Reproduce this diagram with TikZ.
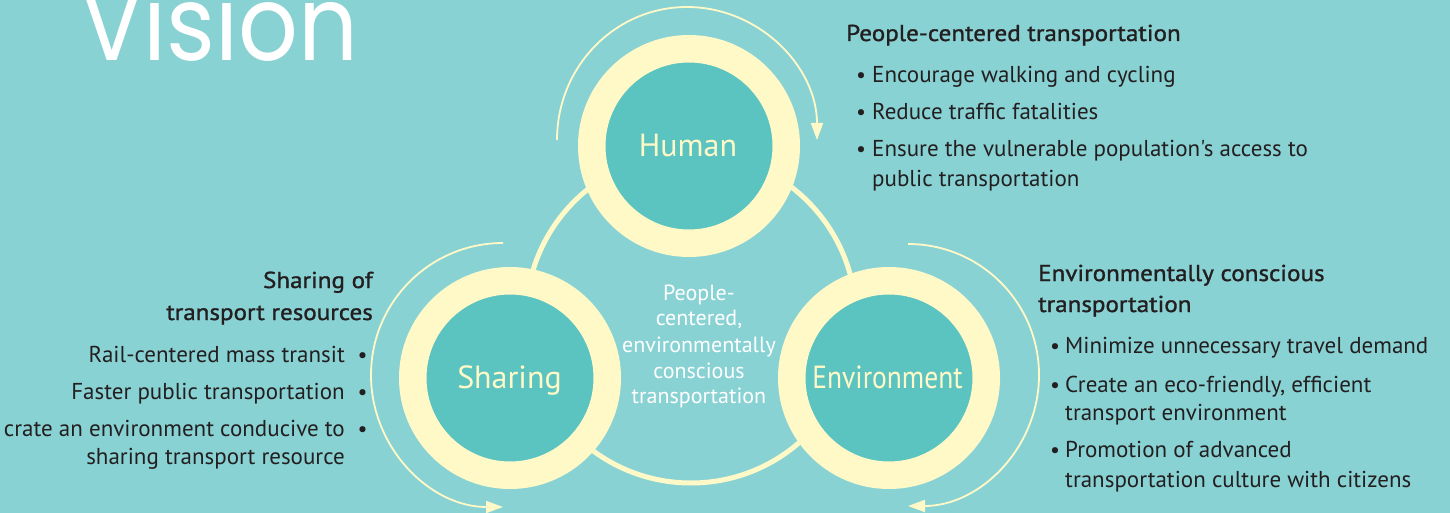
\documentclass[tikz,border=0pt]{standalone}
\usepackage{fontspec}
\setmainfont{PT Sans}
\newfontfamily\bodyfont{PT Sans}
\newfontfamily\headfont{PT Sans}[FakeBold=1.2]
\newfontfamily\visionfont{Poppins}
\usetikzlibrary{arrows.meta}
\definecolor{bgteal}{HTML}{89D2D4}
\definecolor{innerteal}{HTML}{5CC4C0}
\definecolor{cream}{HTML}{FFF9C8}
\definecolor{ink}{HTML}{231F20}
\newcommand{\hd}[1]{\scalebox{1.09}[1]{#1}}
\tikzset{
  ring/.style={circle, draw=cream, line width=27.5pt, fill=innerteal, minimum size=194.5pt, inner sep=0pt, outer sep=0pt},
  ringlabel/.style={anchor=base, inner sep=0pt, text=cream, font=\bodyfont\fontsize{32}{32}\selectfont},
  bigring/.style={draw=cream, line width=5pt},
  arr/.style={draw=cream, line width=1.8pt, -{Triangle[length=17pt,width=12pt]}},
  head/.style={inner sep=0pt, text=ink, font=\headfont\fontsize{23}{23}\selectfont},
  item/.style={inner sep=0pt, text=ink, font=\bodyfont\fontsize{23}{23}\selectfont},
  bul/.style={anchor=base, inner sep=0pt, text=ink, font=\bodyfont\fontsize{22}{22}\selectfont},
  ctr/.style={anchor=base, inner sep=0pt, text=white, font=\bodyfont\fontsize{22}{22}\selectfont}
}
\begin{document}
\begin{tikzpicture}[x=1pt,y=-1pt]
\useasboundingbox (0,0) rectangle (1450,513);
\fill[bgteal] (0,0) rectangle (1450,513);
% title
\node[anchor=base west, inner sep=0pt, text=white, font=\visionfont\fontsize{104}{104}\selectfont] (vision) at (80,61) {\scalebox{0.9}[1]{Vision}};
% connecting ring
\draw[bigring] (691,318) circle[radius=165];
% three rings
\node[ring] (human) at (689,146) {};
\node[ring] (sharing) at (510,378) {};
\node[ring] (env) at (889,378) {};
\node[ringlabel] (humanlbl) at (688,157) {Human};
\node[ringlabel] (sharinglbl) at (509.5,388) {Sharing};
\node[ringlabel] (envlbl) at (887.5,388) {\scalebox{0.86}[1]{Environment}};
% circular arrows
\draw[arr] ([shift={(-132,-6)}]human.center) arc[start angle=180, end angle=360, x radius=130, y radius=133];
\draw[arr] ([shift={(-7,-135)}]sharing.center) arc[start angle=270, end angle=90, radius=132];
\draw[arr] ([shift={(19,-134)}]env.center) arc[start angle=270, end angle=450, radius=131];
% centre text
\node[ctr] (c1) at (699,300) {People-};
\node[ctr] (c2) at (699,325) {centered,};
\node[ctr] (c3) at (699,352) {environmentally};
\node[ctr] (c4) at (699,378) {conscious};
\node[ctr] (c5) at (699,403) {transportation};
% top right block
\node[head, anchor=base west] (t0) at (846,41) {\hd{People-centered transportation}};
\node[bul] (tb1) at (861,83) {•};
\node[item, anchor=base west] (t1) at (872,83) {Encourage walking and cycling};
\node[bul] (tb2) at (861,120) {•};
\node[item, anchor=base west] (t2) at (872,120) {Reduce traffic fatalities};
\node[bul] (tb3) at (861,157) {•};
\node[item, anchor=base west] (t3) at (872,157) {Ensure the vulnerable population's access to};
\node[item, anchor=base west] (t3b) at (872,187) {public transportation};
% left block
\node[head, anchor=base east] (l0) at (373,288) {\hd{Sharing of}};
\node[head, anchor=base east] (l0b) at (373,320) {\hd{transport resources}};
\node[item, anchor=base east] (l1) at (345,362) {Rail-centered mass transit};
\node[bul] (lb1) at (362.5,362) {•};
\node[item, anchor=base east] (l2) at (345,399) {Faster public transportation};
\node[bul] (lb2) at (362.5,399) {•};
\node[item, anchor=base east] (l3) at (345,436) {crate an environment conducive to};
\node[bul] (lb3) at (362.5,436) {•};
\node[item, anchor=base east] (l3b) at (345,464) {sharing transport resource};
% right block
\node[head, anchor=base west] (r0) at (1038,281) {\hd{Environmentally conscious}};
\node[head, anchor=base west] (r0b) at (1038,312) {\hd{transportation}};
\node[bul] (rb1) at (1055,353) {•};
\node[item, anchor=base west] (r1) at (1065,353) {Minimize unnecessary travel demand};
\node[bul] (rb2) at (1055,392) {•};
\node[item, anchor=base west] (r2) at (1065,392) {Create an eco-friendly, efficient};
\node[item, anchor=base west] (r2b) at (1065,420) {transport environment};
\node[bul] (rb3) at (1055,457) {•};
\node[item, anchor=base west] (r3) at (1065,457) {Promotion of advanced};
\node[item, anchor=base west] (r3b) at (1065,487) {transportation culture with citizens};
\end{tikzpicture}
\end{document}
